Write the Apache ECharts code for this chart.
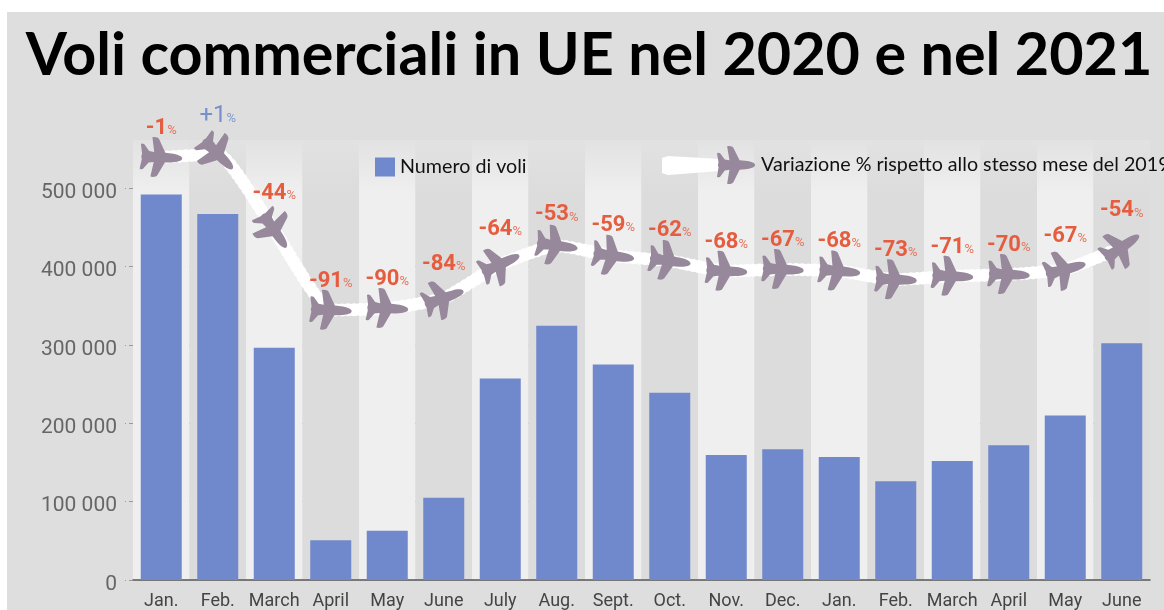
<!DOCTYPE html>
<html>
<head>
<meta charset="utf-8">
<script src="https://cdn.jsdelivr.net/npm/echarts@6/dist/echarts.min.js"></script>
<style>
html,body{margin:0;padding:0;background:#fff;overflow:hidden}
#bg{position:absolute;left:7px;top:12px;right:0;bottom:0;background:#dedede}
#c{position:absolute;left:0;top:0;width:1164px;height:610px}
</style>
</head>
<body>
<div id="bg"></div>
<div id="c"></div>
<script>
const months = ['Jan.','Feb.','March','April','May','June','July','Aug.','Sept.','Oct.','Nov.','Dec.','Jan.','Feb.','March','April','May','June'];
const flights = [492000,467000,296500,50600,63000,105000,257000,324500,275000,239000,159500,167000,157000,126000,152000,172000,210000,302000];
const variation = [-1,1,-44,-91,-90,-84,-64,-53,-59,-62,-68,-67,-68,-73,-71,-70,-67,-54];
const yTicks = [0,100000,200000,300000,400000,500000];
const planeHeading = [-3,-45,-55,-3,-3,20,25,-8,-8,-8,-3,-3,-5,-3,-3,-3,15,35];

const narrow = 'Roboto,sans-serif';
const planeColor = '#97899b';
const planePath = 'path://M100,50 C100,44 88,40 74,39 L60,38 L44,6 C42,2 34,0 28,2 L34,38 L22,36 L10,20 C7,18 3,18 2,20 L6,44 C4,47 4,53 6,56 L2,80 C3,82 7,82 10,80 L22,64 L34,62 L28,98 C34,100 42,98 44,94 L60,62 L74,61 C88,60 100,56 100,50 Z';
const fmtThousands = v => v === 0 ? '0' : String(v).replace(/(\d)(?=(\d{3})+$)/g, '$1 ');
const stripe = top => ({type:'linear',x:0,y:0,x2:0,y2:1,colorStops:[{offset:0,color:'#e2e2e2'},{offset:0.12,color:top},{offset:1,color:top}]});

const chart = echarts.init(document.getElementById('c'), null, {renderer:'canvas'});
chart.setOption({
  animation:false,
  backgroundColor:'transparent',
  title:{
    text:'Voli commerciali in UE nel 2020 e nel 2021',
    left:584, top:21, textAlign:'center',
    textStyle:{fontFamily:'Lato',fontWeight:'bold',fontSize:59.3,color:'#000'}
  },
  legend:[
    {left:375,top:157,padding:0,itemWidth:20,itemHeight:19,itemGap:7,data:[{name:'Numero di voli',icon:'rect'}],selectedMode:false,
     textStyle:{fontFamily:'Lato',fontSize:19.7,color:'#111'}},
    {left:717,top:146,padding:0,itemWidth:40,itemHeight:38,itemGap:4,data:[{name:'Variazione % rispetto allo stesso mese del 2019',icon:planePath}],selectedMode:false,
     textStyle:{fontFamily:'Lato',fontSize:19.7,color:'#111'}}
  ],
  graphic:[{type:'polygon',z:1,silent:true,shape:{points:[[662,158],[668,156],[720,159],[720,171],[668,175],[662,173]]},style:{fill:'#fff'}}],
  grid:{left:133,top:140,width:1017,height:440.7,containLabel:false},
  xAxis:{
    type:'category',data:months,
    boundaryGap:true,
    axisLine:{show:true,lineStyle:{color:'#555',width:1.5}},
    axisTick:{show:false},
    axisLabel:{interval:0,fontFamily:narrow,fontSize:18,color:'#444',margin:12},
    splitArea:{show:true,interval:0,areaStyle:{color:[stripe('#efefef'),stripe('#dcdcdc')]}}
  },
  yAxis:[
    {type:'value',min:0,max:561500,interval:100000,
     axisLine:{show:false},
     axisTick:{show:true,length:8,customValues:yTicks,lineStyle:{color:'#9a9a9a',type:[4,3]}},
     axisLabel:{customValues:yTicks,formatter:fmtThousands,fontFamily:narrow,fontSize:21,color:'#666',margin:16,verticalAlign:'top',lineHeight:9},
     splitLine:{show:true,showMaxLine:false,showMinLine:false,lineStyle:{color:'#9a9a9a',type:[4,3],width:1}}
    },
    {type:'value',min:-250,max:9.24,show:false,splitLine:{show:false},axisLabel:{show:false},axisTick:{show:false}}
  ],
  series:[
    {name:'Numero di voli',type:'bar',data:flights,barWidth:41,z:2,itemStyle:{color:'#7089cc'}},
    {name:'trail',type:'line',yAxisIndex:1,data:variation,showSymbol:false,symbol:'none',smooth:0.15,z:3,silent:true,
     lineStyle:{color:'#fff',width:13,type:[0.1,6],cap:'round'}},
    {name:'Variazione % rispetto allo stesso mese del 2019',type:'line',yAxisIndex:1,z:4,silent:true,
     smooth:0.15,
     symbol:planePath,symbolSize:[42,40],
     lineStyle:{color:'#fff',width:9,cap:'round'},
     itemStyle:{color:planeColor},
     data:variation.map((v,i)=>({
       value:v,
       symbolRotate:planeHeading[i],
       label:{show:true,position:'top',distance:-3,
         formatter:'{'+(v>0?'bp':'rp')+'|'+(v>0?'+'+v:v)+'}{'+(v>0?'bs':'rs')+'|%}',
         rich:{
           rp:{fontFamily:narrow,fontWeight:'bold',fontSize:22,color:'#e65c3e'},
           rs:{fontFamily:narrow,fontSize:13,color:'#e8735a',padding:[5,0,0,0]},
           bp:{fontFamily:narrow,fontSize:24,color:'#7590cc'},
           bs:{fontFamily:narrow,fontSize:13,color:'#7f98d0',padding:[5,0,0,0]}
         }}
     }))
    }
  ]
});
</script>
</body>
</html>
